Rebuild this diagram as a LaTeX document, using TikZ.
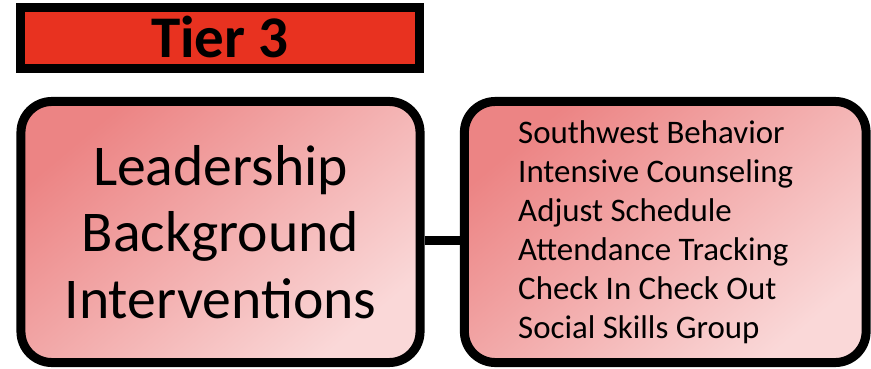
\documentclass[tikz,border=0pt]{standalone}
\usepackage{fontspec}
\setmainfont{Carlito}
\usepackage{xcolor}
\usetikzlibrary{shapes,positioning}
\definecolor{tierred}{RGB}{232,50,32}
\definecolor{pinkdark}{RGB}{236,132,132}
\definecolor{pinklight}{RGB}{250,216,216}
\tikzset{
    % Tier banner style
    tierbanner/.style={
        rectangle, draw=black, line width=6.4pt, fill=tierred,
        minimum width=9.975cm, minimum height=1.51cm,
        font=\fontsize{42}{48}\selectfont\bfseries
    },
    % Shaded box style
    pinkbox/.style={
        rectangle, draw=black, line width=6.4pt,
        top color=pinkdark, bottom color=pinklight, shading angle=40,
        minimum height=6.525cm, rounded corners=22pt
    },
    % Connector style
    linkline/.style={
        line width=6.4pt, color=black
    }
}
\begin{document}
\begin{tikzpicture}[x=0.025cm, y=-0.025cm]
\useasboundingbox (0,0) rectangle (871,369);

\node[tierbanner] (tier) at (220,38) {\raisebox{1.5pt}{Tier 3}};

\node[pinkbox, minimum width=9.975cm, align=flush center,
      font=\fontsize{41}{47.5}\selectfont] (lead) at (220.5,232)
    {Leadership\\Background\\Interventions};

\node[pinkbox, minimum width=10.04cm, text width=7.35cm, align=flush left,
      font=\fontsize{23.4}{27.7}\selectfont] (interv) at (665.25,232)
    {Southwest Behavior\\Intensive Counseling\\Adjust Schedule\\Attendance Tracking\\Check In Check Out\\Social Skills Group};

% Link between boxes
\draw[linkline] ([yshift=-0.2cm]lead.east) -- ([yshift=-0.2cm]interv.west);

\end{tikzpicture}
\end{document}
